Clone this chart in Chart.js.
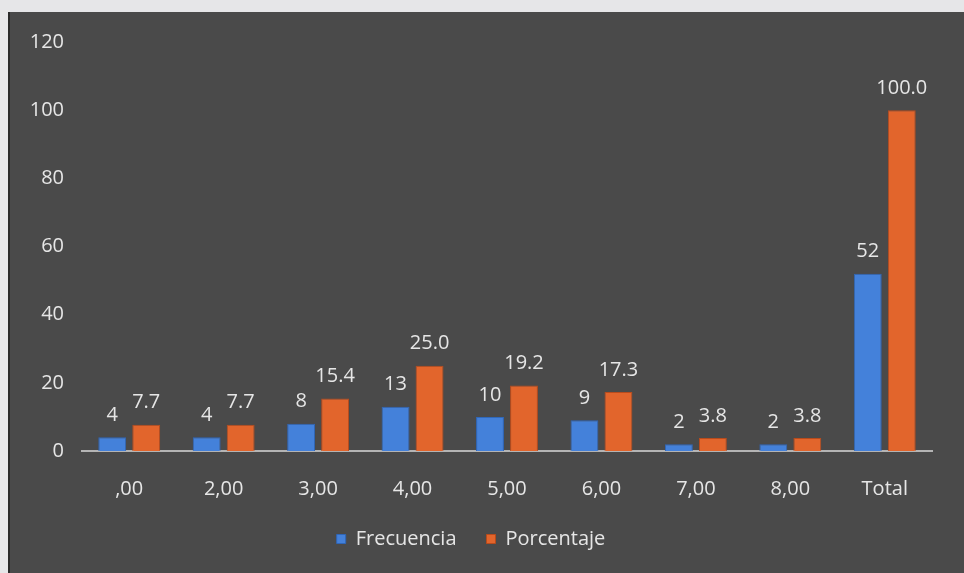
<!DOCTYPE html>
<html>
<head>
<meta charset="utf-8">
<script src="https://cdn.jsdelivr.net/npm/chart.js@4"></script>
<style>
    html, body { margin: 0; padding: 0; background: #e6e6e8; }
    #panel {
        position: absolute; left: 8px; top: 12px; width: 956px; height: 561px;
        background: #4a4a4a; border-left: 2px solid #2a2a2a; box-sizing: border-box;
    }
</style>
</head>
<body>
<div id="panel"><canvas id="chart" width="954" height="561"></canvas></div>
<script>
// Chart data
const categories = [',00', '2,00', '3,00', '4,00', '5,00', '6,00', '7,00', '8,00', 'Total'];
const frecuencia = [4, 4, 8, 13, 10, 9, 2, 2, 52];
const porcentaje = [7.7, 7.7, 15.4, 25.0, 19.2, 17.3, 3.8, 3.8, 100.0];
const yTicks = [0, 20, 40, 60, 80, 100, 120];

const textColor = '#e6e6e6';
const fontFamily = '"Open Sans", "Noto Sans", sans-serif';
const fontSize = 20;

// Value labels above each bar
const valueLabels = {
    id: 'valueLabels',
    afterDatasetsDraw(chart) {
        const ctx = chart.ctx;
        ctx.save();
        ctx.fillStyle = textColor;
        ctx.font = fontSize + 'px ' + fontFamily;
        ctx.textAlign = 'center';
        ctx.textBaseline = 'bottom';
        chart.data.datasets.forEach((ds, i) => {
            chart.getDatasetMeta(i).data.forEach((bar, j) => {
                const v = ds.data[j];
                const text = i === 0 ? String(v) : v.toFixed(1);
                ctx.fillText(text, bar.x, bar.y - 12);
            });
        });
        ctx.restore();
    }
};

new Chart(document.getElementById('chart'), {
    type: 'bar',
    data: {
        labels: categories,
        datasets: [
            {
                label: 'Frecuencia',
                data: frecuencia,
                backgroundColor: '#4481da',
                borderColor: '#2f66b8',
                borderWidth: 1,
                barPercentage: 0.82,
                categoryPercentage: 0.72
            },
            {
                label: 'Porcentaje',
                data: porcentaje,
                backgroundColor: '#e2652c',
                borderColor: '#b94b1c',
                borderWidth: 1,
                barPercentage: 0.82,
                categoryPercentage: 0.72
            }
        ]
    },
    options: {
        responsive: false,
        animation: false,
        layout: { padding: { top: 18, right: 32, bottom: 14, left: 0 } },
        scales: {
            x: {
                afterFit: scale => { scale.height = scale.height - 28; },
                grid: { display: false, drawTicks: false },
                border: { display: true, color: '#b4b4b4', width: 2 },
                ticks: { color: textColor, font: { family: fontFamily, size: fontSize }, padding: 26 }
            },
            y: {
                min: 0,
                max: 120,
                afterBuildTicks: scale => { scale.ticks = yTicks.map(v => ({ value: v })); },
                afterFit: scale => { scale.width = 72; },
                grid: { display: false, drawTicks: false },
                border: { display: false },
                ticks: { color: textColor, font: { family: fontFamily, size: fontSize }, padding: 18 }
            }
        },
        plugins: {
            legend: {
                position: 'bottom',
                labels: {
                    color: textColor,
                    font: { family: fontFamily, size: fontSize },
                    usePointStyle: true,
                    pointStyle: 'rect',
                    boxWidth: 9,
                    boxHeight: 9,
                    padding: 30
                }
            },
            tooltip: { enabled: false }
        }
    },
    plugins: [valueLabels]
});
</script>
</body>
</html>
